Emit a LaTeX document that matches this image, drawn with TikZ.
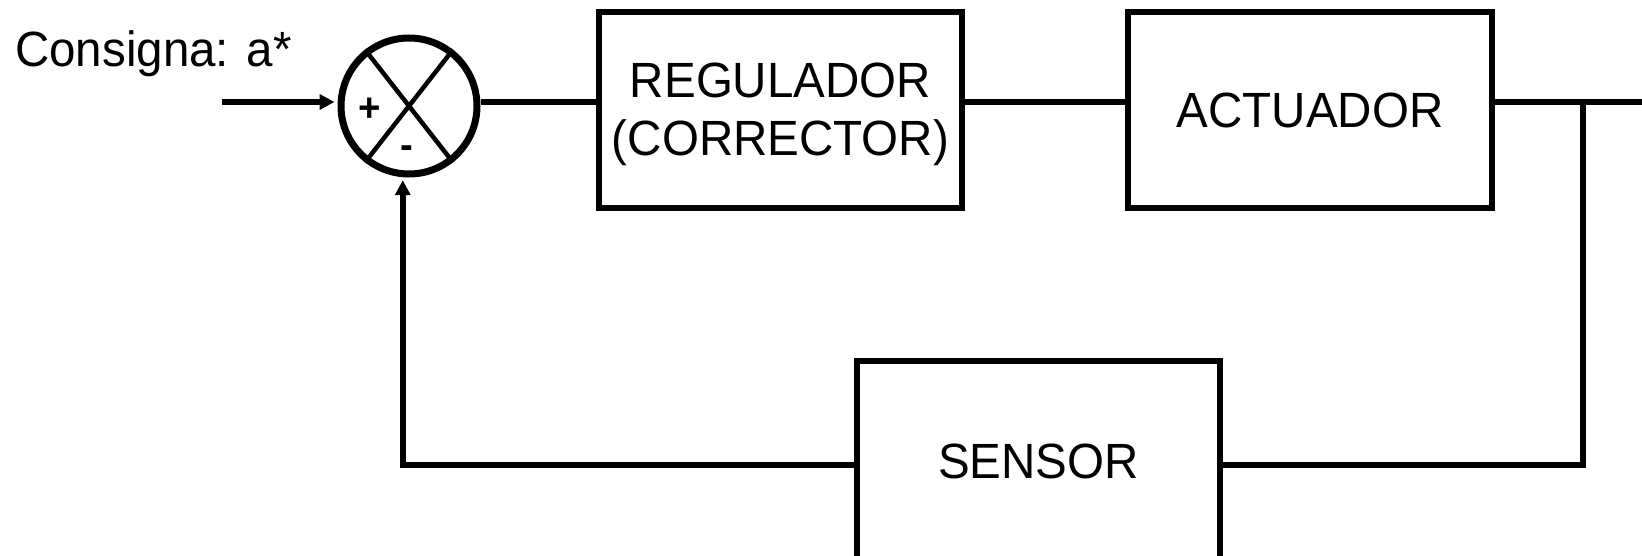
\documentclass[tikz,border=0pt]{standalone}
\usepackage{fontspec}
\setmainfont{Liberation Sans}[FakeStretch=0.96]
\usetikzlibrary{arrows.meta,calc}
\begin{document}
\begin{tikzpicture}[x=1pt,y=1pt,
  wire/.style={line width=5.5pt},
  arr/.style={line width=5.5pt,-{Triangle[length=15pt,width=15pt]}},
  blockbox/.style={draw,line width=6pt,inner sep=0pt,align=center,
    font=\fontsize{49.5}{58}\selectfont},
  sumnode/.style={draw,circle,line width=7pt,minimum size=136pt,inner sep=0pt},
  signlbl/.style={inner sep=0pt,font=\fontsize{40}{42}\selectfont\bfseries},
  lbl/.style={inner sep=0pt,align=center,font=\fontsize{49.5}{58}\selectfont}]
\clip (0,0) rectangle (1642,555);
\useasboundingbox (0,0) rectangle (1642,555);
\coordinate (L) at (0,453);
\coordinate (F) at (0,90);
\coordinate (inStart) at (222,453);
\coordinate (out) at (1642,453);
\coordinate (branch) at (1583,453);
\node[lbl,anchor=base west] (cons) at (15,488) {Consigna: a*};
\node[sumnode] (sum) at (409,449) {};
\draw[line width=4.5pt] (sum.128) -- (sum.-52);
\draw[line width=4.5pt] (sum.52) -- (sum.232);
\node[signlbl] (plus) at (370,445) {+};
\node[signlbl] (minus) at (407,403) {-};
\node[blockbox,minimum width=363pt,minimum height=196pt] (reg) at (780.5,445) {};
\node[lbl] (regtxt) at ($(reg.center)+(0,-4)$) {REGULADOR\\(CORRECTOR)};
\node[blockbox,minimum width=364pt,minimum height=196pt] (act) at (1310,445) {ACTUADOR};
\node[blockbox,minimum width=363pt,minimum height=200pt] (sen) at (1038.5,94) {SENSOR};
\draw[arr] (inStart) -- ($(sum.west |- inStart)+(-3,0)$);
\draw[wire] (sum.east |- L) -- (reg.west |- L);
\draw[wire] (reg.east |- L) -- (act.west |- L);
\draw[wire] (act.east |- L) -- (out);
\draw[wire] (branch) |- (sen.east |- F);
\draw[arr] (sen.west |- F) -| ($(sum.-95)+(0,-3)$);
\end{tikzpicture}
\end{document}
